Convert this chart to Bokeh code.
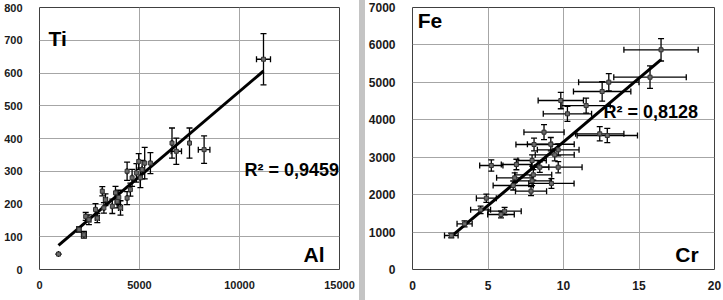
from bokeh.plotting import figure
from bokeh.models import ColumnDataSource, Whisker, TeeHead, Label, Div, FixedTicker, Range1d
from bokeh.layouts import row
from bokeh.embed import file_html
from bokeh.resources import INLINE

# ---------------- data: left panel (Al vs Ti) ----------------
al = [950, 1975, 2220, 2310, 2470, 2800, 2890, 3140, 3220, 3300, 3640, 3800, 3885, 3965,
      4050, 4380, 4380, 4545, 4630, 4845, 4960, 5045, 5130, 5260, 5545, 6625, 6840, 7500,
      8230, 11200]
ti = [47, 122, 106, 162, 152, 183, 157, 239, 188, 213, 193, 234, 208, 220,
      188, 218, 300, 244, 280, 295, 330, 280, 305, 325, 325, 386, 361, 386,
      366, 642]
ti_err = [0, 8, 10, 12, 15, 18, 14, 14, 16, 18, 22, 20, 20, 22,
          22, 20, 28, 20, 26, 28, 24, 30, 28, 48, 32, 46, 40, 46,
          42, 78]
al_err = [0, 100, 120, 0, 100, 0, 100, 0, 0, 100, 0, 0, 100, 0,
          100, 0, 0, 0, 0, 0, 0, 0, 0, 0, 0, 0, 260, 0,
          290, 350]
ti_fit = (0.05197, 24.0)   # slope, intercept
ti_r2 = "R² = 0,9459"
al_ticks = [0, 5000, 10000, 15000]
ti_ticks = [0, 100, 200, 300, 400, 500, 600, 700, 800]

# ---------------- data: right panel (Cr vs Fe) ----------------
cr = [16.46, 15.73, 13.0, 12.56, 9.82, 11.5, 10.26, 8.71, 12.4, 12.9, 8.05, 9.16, 9.65, 9.42,
      7.92, 5.22, 6.88, 9.65, 8.43, 8.0, 6.77, 7.92, 9.2, 6.67, 7.85, 4.89, 4.51, 6.1,
      5.86, 3.45, 2.57]
fe = [5870, 5138, 5005, 4756, 4515, 4380, 4160, 3669, 3625, 3580, 3340, 3347, 3198, 3064,
      2912, 2778, 2805, 2733, 2733, 2530, 2450, 2370, 2300, 2244, 2093, 1906, 1594, 1558,
      1470, 1220, 908]
cr_err = [2.46, 2.4, 2.0, 1.9, 1.5, 1.6, 1.6, 1.33, 1.6, 2.0, 1.2, 1.55, 1.38, 1.29,
          0.94, 0.77, 1.0, 1.58, 0.6, 1.22, 1.2, 1.2, 1.5, 1.33, 1.03, 0.66, 0.66, 1.1,
          0.88, 0.5, 0.45]
fe_err = [300, 300, 230, 260, 220, 200, 200, 200, 190, 190, 170, 180, 160, 160,
          150, 150, 140, 150, 140, 140, 130, 130, 130, 120, 120, 110, 100, 100,
          90, 80, 60]
fe_fit = (340.0, 9.0)
fe_r2 = "R² = 0,8128"
cr_ticks = [0, 5, 10, 15, 20]
fe_ticks = [0, 1000, 2000, 3000, 4000, 5000, 6000, 7000]

FONT = "Liberation Sans"


def make_panel(xs, ys, yerr, xerr, fit, r2, xticks, yticks, xr, yr,
               width, left, right, top, bottom, fw, tick_size,
               ylab, ylab_pos, xlab, xlab_pos, r2_pos):
    p = figure(width=width, height=300, output_backend="svg", toolbar_location=None,
               x_range=Range1d(*xr), y_range=Range1d(*yr),
               min_border_left=left, min_border_right=right,
               min_border_top=top, min_border_bottom=bottom,
               frame_width=fw, frame_height=262)
    p.background_fill_color = "white"
    p.border_fill_color = "white"
    p.outline_line_color = "#404040"
    p.outline_line_width = 1
    for ax, ticks in ((p.xaxis[0], xticks), (p.yaxis[0], yticks)):
        ax.ticker = FixedTicker(ticks=ticks)
        ax.axis_line_color = None
        ax.major_tick_line_color = None
        ax.minor_tick_line_color = None
        ax.major_label_text_font = FONT
        ax.major_label_text_font_style = "bold"
        ax.major_label_text_font_size = tick_size
        ax.major_label_text_color = "#1a1a1a"
    p.xaxis[0].major_label_standoff = 5
    p.yaxis[0].major_label_standoff = 11
    p.xgrid.ticker = FixedTicker(ticks=xticks)
    p.ygrid.ticker = FixedTicker(ticks=yticks)
    p.grid.grid_line_color = "#a6a6a6"
    p.grid.grid_line_width = 1

    src = ColumnDataSource(dict(
        x=xs, y=ys,
        yu=[y + e for y, e in zip(ys, yerr)], yl=[y - e for y, e in zip(ys, yerr)],
        xu=[x + e for x, e in zip(xs, xerr)], xl=[x - e for x, e in zip(xs, xerr)],
    ))
    # trend line
    x0, x1 = min(xs), max(xs)
    p.line([x0, x1], [fit[0] * x0 + fit[1], fit[0] * x1 + fit[1]],
           line_color="black", line_width=3)
    head = dict(size=6, line_color="black", line_width=1.3)
    p.add_layout(Whisker(base="x", upper="yu", lower="yl", source=src, dimension="height",
                         line_color="black", line_width=1.3,
                         upper_head=TeeHead(**head), lower_head=TeeHead(**head)))
    p.add_layout(Whisker(base="y", upper="xu", lower="xl", source=src, dimension="width",
                         line_color="black", line_width=1.3,
                         upper_head=TeeHead(**head), lower_head=TeeHead(**head)))
    p.scatter("x", "y", source=src, marker="square", size=4,
              fill_color="#6a6a6a", line_color="#333333")

    for txt, pos, size in ((ylab, ylab_pos, "21px"), (xlab, xlab_pos, "21px"), (r2, r2_pos, "18px")):
        p.add_layout(Label(x=pos[0], y=pos[1], text=txt, text_font=FONT,
                           text_font_style="bold", text_font_size=size,
                           text_color="black", text_baseline="middle"))
    return p


p1 = make_panel(al, ti, ti_err, al_err, ti_fit, ti_r2, al_ticks, ti_ticks,
                (0, 15000), (0, 800), width=359, left=39, right=20, top=5, bottom=33,
                fw=300, tick_size="11px",
                ylab="Ti", ylab_pos=(450, 705), xlab="Al", xlab_pos=(13200, 45),
                r2_pos=(10250, 305))
sep = Div(width=6, height=300, margin=0,
          styles={"background-color": "#c4c4c4"})
p2 = make_panel(cr, fe, fe_err, cr_err, fe_fit, fe_r2, cr_ticks, fe_ticks,
                (0, 20), (0, 7000), width=358, left=43, right=13, top=7, bottom=31,
                fw=302, tick_size="12px",
                ylab="Fe", ylab_pos=(0.35, 6650), xlab="Cr", xlab_pos=(17.4, 400),
                r2_pos=(12.65, 4200))

layout = row(p1, sep, p2, spacing=0)
open("out.html", "w").write(file_html(layout, INLINE))
